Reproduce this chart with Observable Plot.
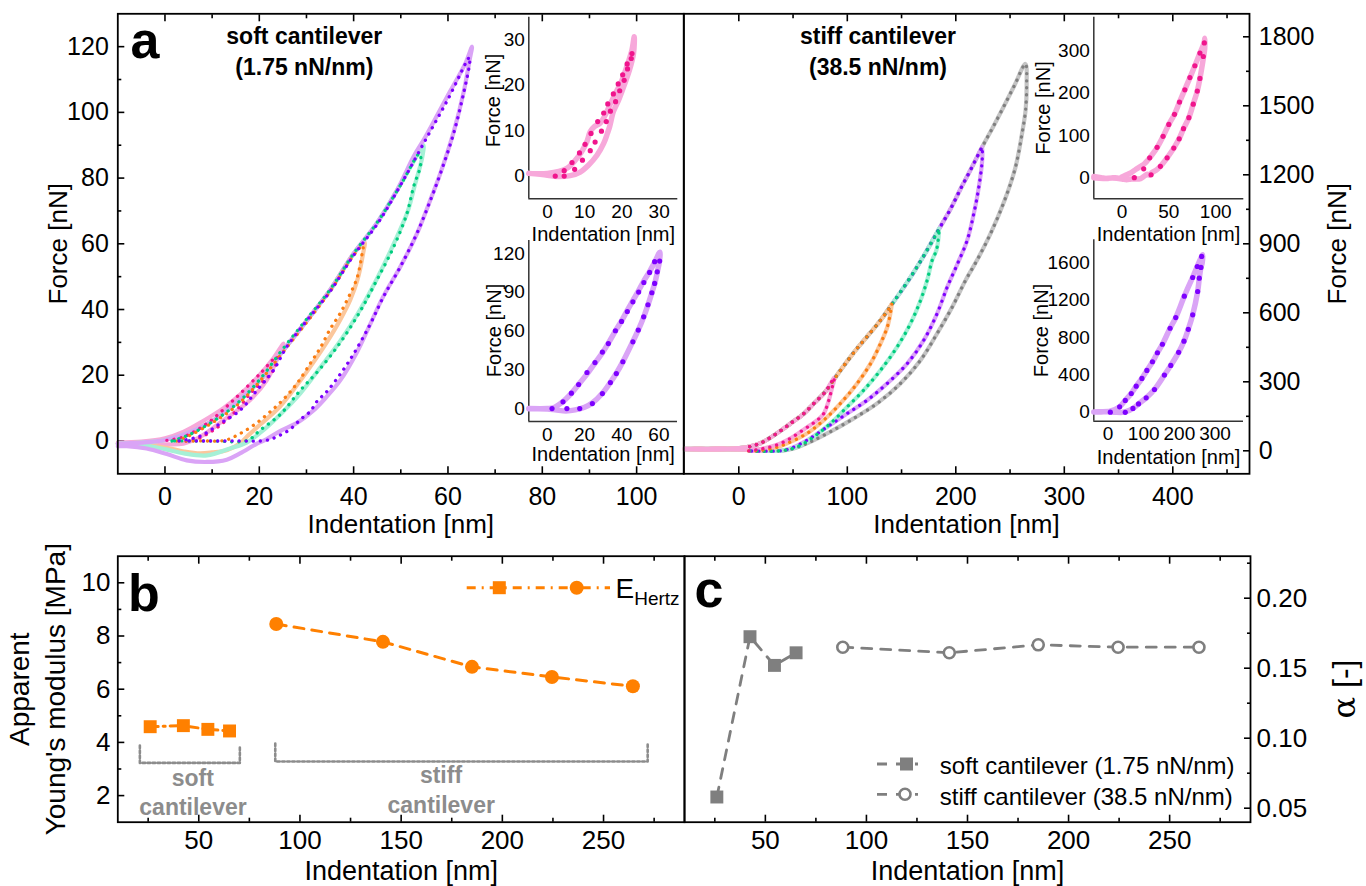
<!DOCTYPE html>
<html><head><meta charset="utf-8">
<script src="https://cdn.jsdelivr.net/npm/d3@7"></script>
<script src="https://cdn.jsdelivr.net/npm/@observablehq/plot@0.6"></script>
<style>
body{margin:0;background:#fff;}
#fig{position:relative;width:1366px;height:886px;overflow:hidden;background:#fff;font-family:"Liberation Sans",Arial,Helvetica,sans-serif;}
</style></head><body><div id="fig"></div>
<script>
// ================= DATA =================
// Panel a (soft cantilever 1.75 nN/nm): [indentation nm, force nN]
const softPinkMeasured = [[-10,-0.5],[-5,-0.2],[0,0.8],[4,2.8],[8,6],[12.4,10],[16,14.2],[20,20],[23,25.2],[25.1,29.6],[23.7,24.6],[21.6,18.5],[18,12.4],[12.4,6.3],[7.4,1.2],[3.9,-0.8],[0,-1],[-5,-0.8],[-10,-0.8]];
const softOrangeMeasured = [[-10,-0.8],[-5,-0.5],[0,0.3],[4.6,2.3],[10.3,6.3],[14.5,10.9],[20.2,18.5],[25.1,27.6],[30.1,36.7],[35,45.9],[40,57],[42.3,60.5],[42,57],[40.8,49],[39.3,43],[37.2,37],[34.3,30],[31.5,24],[28,17],[24.4,10.5],[20.2,5],[17.5,1.5],[15.9,-0.8],[13.1,-2.8],[10,-3.5],[7.4,-3.8],[4,-3.2],[0,-2],[-5,-1.2],[-10,-0.8]];
const softGreenMeasured = [[-10,-0.8],[-5,-0.5],[0,0.3],[4.6,2.3],[10.3,6.3],[14.5,10.9],[20.2,18.5],[25.1,27.6],[30.1,36.7],[35,45.9],[40,57],[44.9,66.2],[49.2,76.3],[52.7,85],[54.8,90],[54.5,86],[53,78],[51.5,70],[48.5,60],[45,49.5],[41.4,40],[37.2,30.5],[33,22.5],[28.7,14.5],[24.4,8],[20.2,2.5],[17.3,-0.5],[13.8,-2.3],[8.9,-4.4],[4,-3.8],[0,-2.5],[-5,-1.2],[-10,-1]];
const softPurpleMeasured = [[-10,-0.8],[-5,-0.5],[0,0.3],[4.6,2.3],[10.3,6.3],[14.5,10.9],[20.2,18.5],[25.1,27.6],[30.1,36.7],[35,45.9],[40,57],[44.9,66.2],[49.2,76.3],[52.7,86.5],[55.2,92.5],[59.8,104.7],[63.7,114.9],[65.1,120],[64.6,116],[63.3,106],[61.2,94],[58.4,81.5],[56.3,73.5],[53.4,63],[49.9,53],[46.3,44],[43.5,35.5],[40.7,27],[37.2,18.5],[34,13],[31.5,9.3],[28,5.5],[24.4,3],[21.5,0.5],[19.5,-0.8],[15.9,-3.8],[13.1,-5.7],[8.9,-6.4],[4.6,-5.9],[0.4,-4],[-3.9,-2.3],[-8.1,-1.6],[-10,-1.6]];
const softPinkFit = [[0.4,0.2],[3.9,1.2],[8.9,5.3],[14.5,12.4],[20.2,20.5],[23.7,25.6],[23,21.5],[18.7,15.4],[14.5,8.3],[10.3,3.3],[6,0.2],[3,0]];
const softOrangeFit = [[2.5,0],[5,1.5],[10,5.5],[15,10.5],[20,18],[25,27],[30,36],[35,45.5],[40,56.5],[42,59.5],[41.8,57],[40.7,49.5],[39,44],[37,38.5],[35,34],[33,28.5],[31,24],[28,17.5],[25,12.5],[22,8.5],[19,5],[16,2.3],[12.8,0.2],[8,0],[3,0]];
const softGreenFit = [[1.5,0],[5,1.8],[10,5.8],[15,11],[20,18.5],[25,28],[30,37],[35,46],[40,57],[45,66.5],[50,78],[54,87.5],[54.2,84],[52.7,77.3],[51.3,69.2],[48.5,59.1],[44.9,48.9],[41.4,39.5],[37.2,30],[32.9,22],[28.7,15.4],[24.4,8],[20.2,3.3],[17.5,0.2],[10,0],[2,0]];
const softPurpleFit = [[3,0],[7.5,1.5],[11.7,5.3],[15.9,9.3],[19.5,15.4],[23,21.5],[25.8,28.6],[30,36.5],[35,45.5],[40,56.5],[45,66],[50,78],[55,91],[60,104],[64.6,116.8],[64.6,115],[63.3,105.7],[61.2,93.6],[58.4,81.4],[56.3,73.3],[53.4,63.1],[49.9,53],[46.3,43.8],[43.5,35.5],[40,26.5],[37,20],[34.3,15],[32.2,12],[30.8,9],[28.7,6.5],[26.5,3.5],[24,1.5],[21.6,0.2],[15,0],[4,0]];

// Panel a (stiff cantilever 38.5 nN/nm): shared loading branch, peaks, unloading branches
const stiffApproach = [[-50,8],[-40,10],[-30,9],[-20,11],[-10,10],[0,12],[10,18],[20,33],[29,57],[40,92],[48,120],[60,162],[69,205],[80,258],[88,312],[100,390],[109,445],[118,495],[131,570],[140,630],[149,690],[161,775],[172,860],[184,960],[195,1050],[204,1135],[214,1225],[224,1318],[234,1405],[244,1495],[254,1588]];
const stiffPeaks = {pink:[88,318], orange:[141,640], green:[184.5,966], purple:[224.3,1320], gray:[264.2,1682]};
const stiffPinkRetract = [[87.5,300],[86,275],[83,220],[78.3,162],[72.3,133],[66.1,112],[56.9,83],[47.6,54],[38.4,32],[29.2,17],[20,8],[10.8,0]];
const stiffOrangeRetract = [[140.5,620],[137,540],[130.6,466],[121.4,379],[109.1,293],[93.7,206],[78.3,133],[63,76],[44.6,32],[35,15],[26,6],[15,0]];
const stiffGreenRetract = [[183.5,905],[182,870],[178.2,828],[173.6,741],[167.5,654],[158.2,553],[146,452],[130.6,350],[115.2,264],[99.9,191],[84.5,119],[69.1,61],[53.8,17],[38.4,0]];
const stiffPurpleRetract = [[224.3,1262],[221.2,1146],[216.6,1031],[210.5,915],[201.3,810],[192.1,712],[182.8,597],[170.5,481],[155.2,379],[136.8,293],[118.3,220],[99.9,162],[81.5,104],[63,46],[47.6,10],[38.4,0]];
const stiffGrayRetract = [[265.3,1590],[264.3,1480],[261,1378],[255,1233],[245,1089],[232,944],[219.5,828],[209,741],[196.7,625],[182.8,510],[167.5,394],[149,293],[127.5,206],[106,141],[84.5,83],[66,39],[50.7,10],[38,0]];
const stiffBaselineTail = [[25,2],[10,5],[-10,6],[-30,5],[-50,7]];

// Insets
const insetSoftPinkMeasured = [[-5,0.6],[0,0.6],[5.2,1.7],[7.7,3.7],[9.2,5.4],[10.6,7.6],[11.5,9.8],[12.6,10.9],[14.2,11.7],[15.5,13.4],[16.9,15.9],[18.7,18.9],[20,21.1],[21.3,24.1],[22.7,27.8],[23.3,30.7],[23.1,27],[22,23.3],[20.6,20],[19.1,16.7],[17.7,14.2],[16.7,10.9],[16.1,9.4],[15.1,7.2],[13.3,4.6],[11,2.4],[8.8,0.9],[6.1,0.1],[2.5,-0.1],[0,0.2],[-5,0.6]];
const insetSoftPinkFit = [[2.1,0],[4.5,1.2],[6.6,3],[8.6,5.1],[10.1,7],[11.7,9.4],[13.5,12],[15.1,13.9],[16.2,15.9],[17.7,18.1],[19,20.3],[20.2,22.3],[21.4,24.7],[22.5,25.9],[22.7,27],[21.5,23.6],[20.6,21.1],[19.4,18.8],[18.3,16.4],[16.9,14.3],[15.8,12],[14.5,9.9],[12.8,7.5],[11.5,5.6],[9.4,3.5],[7.3,1.5],[4.5,0]];
const insetSoftPurpleMeasured = [[-10,0],[0,0],[3,0.5],[8,5],[13,12],[17,19],[22,28],[26,36],[30,44],[33,51],[37,61],[40,68],[43,76],[46,83.5],[49,91],[52,99],[55,106],[58,114],[60.5,121],[60.3,114],[59.2,106],[57.8,97],[56.3,90],[54.2,80.5],[52,71.5],[49,61],[46,52],[40.7,36.5],[37.2,27.5],[34,20.5],[29.7,12],[24.3,4.5],[20,1],[15,-1],[10,-1.8],[5,-1.2],[0,-0.3],[-10,-0.2]];
const insetSoftPurpleFit = [[2.5,0],[8.4,5.2],[12.9,11.9],[16.8,18.6],[21.3,27.9],[25.6,35.6],[29.6,43.7],[32.8,50.3],[36.6,60.2],[39.9,67.4],[43,75.1],[46,82.6],[49.1,90.1],[51.9,97.5],[55,105.3],[57.7,113.6],[60.4,114.1],[59.1,105.8],[57.7,96.8],[56.2,89.6],[54.1,80.3],[51.8,71],[48.9,60.7],[46,51.6],[40.6,36.2],[37.1,27.1],[33.9,20.1],[29.6,11.6],[24.2,3.9],[17.4,0],[10.5,0]];
const insetStiffPinkMeasured = [[-30,3],[-22,0],[-15,-2],[-8,0],[-2,-1],[0,2],[5,7],[10,12],[15,20],[20,27],[24,33],[27,40],[30,48],[34,60],[38,73],[44,98],[50,126],[56,150],[61.4,179],[67,208],[72.5,237],[77.8,265],[83.2,295],[87.5,318],[88.5,330],[88.3,305],[87,285],[83.2,235],[80.4,205],[76,174],[71.4,142],[65.7,116],[61,92],[55.3,70],[48.2,47],[41,27],[36,17],[32,12],[30,6],[27,8],[24,4],[20,-2],[10,-3],[5,-5],[0,-3],[-10,-1],[-20,-2],[-30,0]];
const insetStiffPinkFit = [[13.2,0],[23.2,21],[29.6,47],[37.5,72],[43.9,98],[50,126],[56.1,150],[61.4,179],[67.1,208],[72.5,237],[77.8,265],[83.2,295],[87.9,319],[86.8,287],[83.2,235],[80.4,205],[76.1,174],[71.4,142],[65.7,116],[61.1,92],[55.3,70],[48.2,47],[41,27],[31.1,7]];
const insetStiffPurpleMeasured = [[-40,0],[-20,2],[0,5],[6,8],[32,54],[48,123],[65,198],[79,277],[95,360],[109,446],[125,539],[138.5,636],[152.5,727],[174,899],[190,1014],[214,1244],[237,1445],[250,1563],[262.6,1671],[265,1690],[264,1600],[260.6,1553],[256,1438],[251.4,1294],[237.4,1043],[225,888],[213,760],[198,640],[176,500],[158,396],[130,241],[107,151],[85.5,86],[70,37],[50,2],[40,-5],[20,-3],[0,2],[-20,0],[-40,0]];
const insetStiffPurpleFit = [[6.4,-3],[32.4,54],[48.3,123],[65.1,198],[79,277],[95,360],[108.9,446],[124.6,539],[138.5,636],[152.5,727],[174,899],[189.9,1014],[214,1244],[237.4,1445],[250.3,1563],[262.6,1671],[260.6,1553],[255.9,1438],[251.4,1294],[237.4,1043],[225.1,888],[213,760],[198,640],[176,500],[158.1,396],[130.2,241],[107,151],[85.5,86],[69.8,37],[48.3,-5]];

// Panels b and c
const softDepth = [26, 42.4, 54.5, 65.2];
const stiffDepth = [88.3, 141, 185, 224.5, 264.5];
const eHertzSoft = [4.59, 4.63, 4.49, 4.43];
const eHertzStiff = [8.45, 7.78, 6.84, 6.46, 6.11];
const alphaSoft = [0.058, 0.1725, 0.152, 0.161];
const alphaStiff = [0.165, 0.161, 0.1667, 0.165, 0.165];
const bracketSoft = [[20.9,3.88],[20.9,3.23],[70.3,3.23],[70.3,3.88]];
const bracketStiff = [[87.8,3.96],[87.8,3.28],[271.8,3.28],[271.8,3.96]];

// ================= STYLE =================
const FONT = '"Liberation Sans", Arial, Helvetica, sans-serif';
const C = {pink:"#f0148c", pinkL:"#f7a8da", orange:"#fa7d12", orangeL:"#fbc79c", green:"#00cc7e", greenL:"#a6f0d6",
  purple:"#7d00ff", purpleL:"#daa4f6", gray:"#7f7f7f", grayL:"#c4c4c4", note:"#8c8c8c", hertz:"#ff8000"};
const X = d => d[0], Y = d => d[1];
const fig = document.getElementById("fig");

function panel({frame, box, x, y, marks, after}) {
  const [l, t, r, b] = frame, [L, T, R, B] = box;
  const at = (px, py) => ({frameAnchor: "top-left", dx: px - l, dy: py - t});
  const txt = (s, px, py, o = {}) => Plot.text([s], {...at(px, py), text: d => d, lineAnchor: "bottom", textAnchor: "middle", fill: "black", ...o});
  const el = Plot.plot({
    width: R - L, height: B - T,
    marginLeft: l - L, marginTop: t - T, marginRight: R - r, marginBottom: B - b,
    x: {domain: x, axis: null}, y: {domain: y, axis: null},
    style: {background: "transparent", fontFamily: FONT, overflow: "visible", color: "black"},
    marks: marks(txt)
  });
  el.style.position = "absolute"; el.style.left = L + "px"; el.style.top = T + "px";
  fig.appendChild(el);
  if (after) after(d3.select(el), (px, py) => [px - L, py - T]);
  return el;
}
const S = d => String(d), blank = () => "";
function xTicks(major, minor, fs, pad) {
  return [
    Plot.axisX({anchor: "bottom", ticks: major, tickSize: -7, tickPadding: pad, fontSize: fs, tickFormat: S, label: null, strokeWidth: 1.6}),
    Plot.axisX({anchor: "bottom", ticks: minor, tickSize: -4, tickFormat: blank, label: null, strokeWidth: 1.6}),
    Plot.axisX({anchor: "top", ticks: major, tickSize: -7, tickFormat: blank, label: null, strokeWidth: 1.6}),
    Plot.axisX({anchor: "top", ticks: minor, tickSize: -4, tickFormat: blank, label: null, strokeWidth: 1.6})
  ];
}
function yTicks(anchor, major, minor, fs, pad, fmt = S) {
  return [
    Plot.axisY({anchor, ticks: major, tickSize: -7, tickPadding: pad, fontSize: fs, tickFormat: fmt, label: null, strokeWidth: 1.6}),
    Plot.axisY({anchor, ticks: minor, tickSize: -4, tickFormat: blank, label: null, strokeWidth: 1.6})
  ];
}
const meas = (data, color, w = 4.2) => Plot.line(data, {x: X, y: Y, stroke: color, strokeWidth: w, strokeLinejoin: "round", strokeLinecap: "round", curve: "catmull-rom"});
const dotted = (data, color) => Plot.line(data, {x: X, y: Y, stroke: color, strokeWidth: 3.3, strokeDasharray: "0.1 7", strokeLinecap: "round", curve: "catmull-rom"});
const frame = () => Plot.frame({stroke: "black", strokeWidth: 1.8});

// ================= PANEL a (soft) =================
panel({frame: [117.3, 13.3, 683.3, 473.3], box: [0, 0, 700, 545], x: [-10, 110], y: [-10, 130],
  marks: txt => [
    ...xTicks([0,20,40,60,80,100], [10,30,50,70,90], 25, 20.4),
    ...yTicks("left", [0,20,40,60,80,100,120], [10,30,50,70,90,110], 25, 16),
    meas(softPinkMeasured, C.pinkL), meas(softOrangeMeasured, C.orangeL), meas(softGreenMeasured, C.greenL), meas(softPurpleMeasured, C.purpleL),
    dotted(softPinkFit, C.pink), dotted(softOrangeFit, C.orange), dotted(softGreenFit, C.green), dotted(softPurpleFit, C.purple),
    frame(),
    txt("a", 130, 57, {fontSize: 52, fontWeight: "bold", textAnchor: "start"}),
    txt("soft cantilever", 303.8, 43.3, {fontSize: 23, fontWeight: "bold"}),
    txt("(1.75 nN/nm)", 303.8, 74, {fontSize: 23, fontWeight: "bold"}),
    txt("Force [nN]", 58, 243.3, {fontSize: 26, rotate: -90, lineAnchor: "middle"}),
    txt("Indentation [nm]", 400.3, 532, {fontSize: 26})
  ]});

// ================= PANEL a (stiff) =================
function stiffLoop(peak, retract, tail) {
  const up = stiffApproach.filter(p => p[0] < peak[0]);
  return tail ? up.concat([peak], retract, tail) : up.filter(p => p[0] >= 5).concat([peak], retract, [[6, 0]]);
}
const stiffSets = [
  [stiffPeaks.pink, stiffPinkRetract, C.pinkL, C.pink],
  [stiffPeaks.orange, stiffOrangeRetract, C.orangeL, C.orange],
  [stiffPeaks.green, stiffGreenRetract, C.greenL, C.green],
  [stiffPeaks.purple, stiffPurpleRetract, C.purpleL, C.purple],
  [stiffPeaks.gray, stiffGrayRetract, C.grayL, C.gray]
];
panel({frame: [683.3, 13.3, 1249, 473.3], box: [670, 0, 1366, 545], x: [-50.7, 470.7], y: [-100, 1900],
  marks: txt => [
    ...xTicks([0,100,200,300,400], [50,150,250,350,450], 25, 20.4),
    ...yTicks("right", [0,300,600,900,1200,1500,1800], [150,450,750,1050,1350,1650], 25, 16.3),
    ...stiffSets.slice().reverse().map(s => meas(stiffLoop(s[0], s[1], stiffBaselineTail), s[2])),
    ...stiffSets.slice().reverse().map(s => dotted(stiffLoop(s[0], s[1], null), s[3])),
    frame(),
    txt("stiff cantilever", 877.5, 43.3, {fontSize: 23, fontWeight: "bold"}),
    txt("(38.5 nN/nm)", 877.5, 74, {fontSize: 23, fontWeight: "bold"}),
    txt("Force [nN]", 1336.7, 243.3, {fontSize: 26, rotate: -90, lineAnchor: "middle"}),
    txt("Indentation [nm]", 966, 532, {fontSize: 26})
  ]});

// ================= INSETS =================
function inset({frame, box, x, y, xt, yt, meas: m, fit, light, dark, xTitle, yTitle}) {
  panel({frame, box, x, y, marks: txt => [
    Plot.ruleY([y[0]], {stroke: "#333", strokeWidth: 1.5}),
    Plot.ruleX([x[0]], {stroke: "#333", strokeWidth: 1.5}),
    Plot.axisX({anchor: "bottom", ticks: xt, tickSize: 0, tickPadding: 5.5, fontSize: 19, tickFormat: S, label: null}),
    Plot.axisY({anchor: "left", ticks: yt, tickSize: 0, tickPadding: 4, fontSize: 19, tickFormat: S, label: null}),
    meas(m, light, 5.5),
    Plot.dot(fit, {x: X, y: Y, r: 2.6, fill: dark}),
    txt("Indentation [nm]", xTitle[0], xTitle[1], {fontSize: 20}),
    txt("Force [nN]", yTitle[0], yTitle[1], {fontSize: 20, rotate: -90, lineAnchor: "middle"})
  ]});
}
inset({frame: [528.3, 16.7, 677.3, 198.3], box: [470, 0, 690, 250], x: [-5, 35], y: [-5, 35], xt: [0,10,20,30], yt: [0,10,20,30],
  meas: insetSoftPinkMeasured, fit: insetSoftPinkFit, light: C.pinkL, dark: C.pink, xTitle: [602.8, 240], yTitle: [493, 100]});
inset({frame: [528.3, 240, 677, 421], box: [470, 225, 690, 470], x: [-10, 70], y: [-10, 130], xt: [0,20,40,60], yt: [0,30,60,90,120],
  meas: insetSoftPurpleMeasured, fit: insetSoftPurpleFit, light: C.purpleL, dark: C.purple, xTitle: [602.7, 460], yTitle: [494.3, 330]});
inset({frame: [1093.3, 16.7, 1243.3, 198.3], box: [1025, 0, 1255, 250], x: [-30, 130], y: [-50, 380], xt: [0,50,100], yt: [0,100,200,300],
  meas: insetStiffPinkMeasured, fit: insetStiffPinkFit, light: C.pinkL, dark: C.pink, xTitle: [1168, 240.7], yTitle: [1043, 107.5]});
inset({frame: [1093.3, 239.3, 1243, 420.7], box: [1025, 225, 1255, 470], x: [-40, 380], y: [-100, 1850], xt: [0,100,200,300], yt: [0,400,800,1200,1600],
  meas: insetStiffPurpleMeasured, fit: insetStiffPurpleFit, light: C.purpleL, dark: C.purple, xTitle: [1168, 463.3], yTitle: [1040.7, 330]});

// ================= PANEL b =================
const pairs = (xs, ys) => xs.map((v, i) => [v, ys[i]]);
panel({frame: [117.3, 555.7, 684, 821.7], box: [0, 545, 700, 886], x: [10, 290], y: [1, 11],
  marks: txt => [
    ...xTicks([50,100,150,200,250], [25,75,125,175,225,275], 26, 15.3),
    ...yTicks("left", [2,4,6,8,10], [3,5,7,9], 26, 14.3),
    Plot.line(bracketSoft, {x: X, y: Y, stroke: C.note, strokeWidth: 2.6, strokeDasharray: "2.6 2.4"}),
    Plot.line(bracketStiff, {x: X, y: Y, stroke: C.note, strokeWidth: 2.6, strokeDasharray: "2.6 2.4"}),
    Plot.line(pairs(softDepth, eHertzSoft), {x: X, y: Y, stroke: C.hertz, strokeWidth: 3, strokeDasharray: "8 5 2 5"}),
    Plot.line(pairs(stiffDepth, eHertzStiff), {x: X, y: Y, stroke: C.hertz, strokeWidth: 3, strokeDasharray: "10 8"}),
    Plot.dot(pairs(softDepth, eHertzSoft), {x: X, y: Y, symbol: "square", r: 7.3, fill: C.hertz}),
    Plot.dot(pairs(stiffDepth, eHertzStiff), {x: X, y: Y, symbol: "circle", r: 7, fill: C.hertz}),
    frame(),
    txt("b", 127.5, 610, {fontSize: 52, fontWeight: "bold", textAnchor: "start"}),
    txt("soft", 192.3, 785, {fontSize: 23, fontWeight: "bold", fill: C.note}),
    txt("cantilever", 192.5, 814, {fontSize: 23, fontWeight: "bold", fill: C.note}),
    txt("stiff", 440.5, 782, {fontSize: 23, fontWeight: "bold", fill: C.note}),
    txt("cantilever", 440.7, 812, {fontSize: 23, fontWeight: "bold", fill: C.note}),
    txt("Apparent", 20, 688.7, {fontSize: 28, rotate: -90, lineAnchor: "middle"}),
    txt("Young's modulus [MPa]", 55.5, 688.7, {fontSize: 28, rotate: -90, lineAnchor: "middle"}),
    txt("Indentation [nm]", 400.7, 879, {fontSize: 27})
  ],
  after: (g, P) => {
    const [x1, y1] = P(466.7, 587.7), [x2] = P(610, 587.7);
    g.append("line").attr("x1", x1).attr("x2", x2).attr("y1", y1).attr("y2", y1)
      .attr("stroke", C.hertz).attr("stroke-width", 3).attr("stroke-dasharray", "9 6 2 6");
    const [sx] = P(499.3, 0), [cx] = P(576.7, 0);
    g.append("rect").attr("x", sx - 6.5).attr("y", y1 - 6.5).attr("width", 13).attr("height", 13).attr("fill", C.hertz);
    g.append("circle").attr("cx", cx).attr("cy", y1).attr("r", 7).attr("fill", C.hertz);
    const [tx, ty] = P(615.5, 598.3);
    const t = g.append("text").attr("x", tx).attr("y", ty).attr("text-anchor", "start").attr("font-family", FONT).attr("font-size", 28).attr("fill", "black");
    t.append("tspan").text("E");
    t.append("tspan").attr("dy", 7).attr("font-size", 19).text("Hertz");
  }
});

// ================= PANEL c =================
panel({frame: [684, 555.7, 1250, 821.7], box: [670, 545, 1366, 886], x: [10, 290], y: [0.04, 0.23],
  marks: txt => [
    ...xTicks([50,100,150,200,250], [25,75,125,175,225,275], 26, 15.3),
    ...yTicks("right", [0.05,0.1,0.15,0.2], [0.075,0.125,0.175,0.225], 26, 13, d3.format(".2f")),
    Plot.line(pairs(softDepth, alphaSoft), {x: X, y: Y, stroke: C.gray, strokeWidth: 2.8, strokeDasharray: "10 9"}),
    Plot.line(pairs(stiffDepth, alphaStiff), {x: X, y: Y, stroke: C.gray, strokeWidth: 2.8, strokeDasharray: "10 9"}),
    Plot.dot(pairs(softDepth, alphaSoft), {x: X, y: Y, symbol: "square", r: 7.3, fill: C.gray}),
    Plot.dot(pairs(stiffDepth, alphaStiff), {x: X, y: Y, symbol: "circle", r: 5.5, fill: "white", stroke: C.gray, strokeWidth: 2.6}),
    frame(),
    txt("c", 694, 606.7, {fontSize: 52, fontWeight: "bold", textAnchor: "start"}),
    txt("Indentation [nm]", 967, 879, {fontSize: 27}),
    txt("soft cantilever (1.75 nN/nm)", 939.3, 773, {fontSize: 24, textAnchor: "start"}),
    txt("stiff cantilever (38.5 nN/nm)", 939.3, 804, {fontSize: 24, textAnchor: "start"})
  ],
  after: (g, P) => {
    const rows = [764, 794.3];
    rows.forEach((yy, i) => {
      const [x1, y1] = P(877, yy), [x2] = P(918, yy);
      g.append("line").attr("x1", x1).attr("x2", x2).attr("y1", y1).attr("y2", y1)
        .attr("stroke", C.gray).attr("stroke-width", 2.8).attr("stroke-dasharray", "10 9");
      if (i === 0) {
        const [sx] = P(906.5, 0);
        g.append("rect").attr("x", sx - 6.5).attr("y", y1 - 6.5).attr("width", 13).attr("height", 13).attr("fill", C.gray);
      } else {
        const [cx] = P(905, 0);
        g.append("circle").attr("cx", cx).attr("cy", y1).attr("r", 5.5).attr("fill", "white").attr("stroke", C.gray).attr("stroke-width", 2.6);
      }
    });
    const [ax, ay] = P(1345, 689);
    const t = g.append("text").attr("transform", `translate(${ax},${ay}) rotate(-90)`).attr("text-anchor", "middle")
      .attr("dy", "0.32em").attr("font-size", 32).attr("fill", "black").attr("font-family", FONT);
    t.append("tspan").attr("font-family", '"DejaVu Serif","Liberation Serif",serif').text("α");
    t.append("tspan").text(" [-]");
  }
});
</script></body></html>
